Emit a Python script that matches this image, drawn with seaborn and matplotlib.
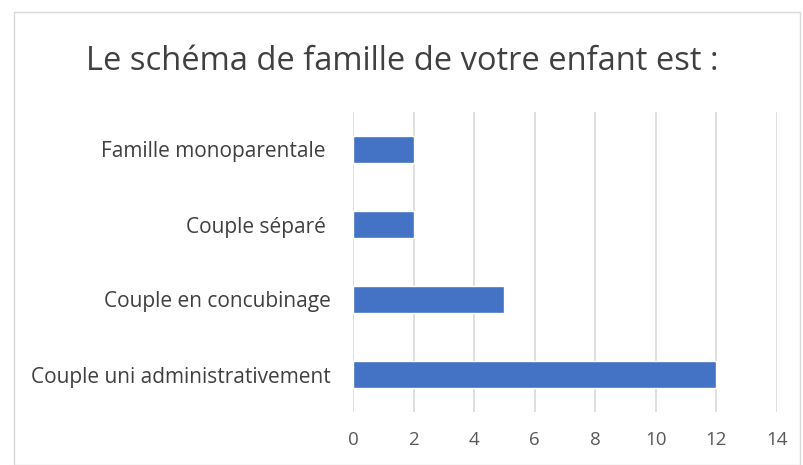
import matplotlib
matplotlib.use("Agg")
import matplotlib.pyplot as plt
import seaborn as sns
import pandas as pd
from matplotlib.patches import Rectangle

categories = ["Famille monoparentale ", "Couple séparé ", "Couple en concubinage", "Couple uni administrativement"]
values = [2, 2, 5, 12]
xticks = [0, 2, 4, 6, 8, 10, 12, 14]
title = "Le schéma de famille de votre enfant est :"

df = pd.DataFrame({"cat": categories, "val": values})

sns.set_theme(style="white")
plt.rcParams['font.family'] = ['Open Sans', 'DejaVu Sans']

fig = plt.figure(figsize=(8.04, 4.65), dpi=100)
ax = fig.add_axes([353/804, 1-412/465, (777-353)/804, 300/465])
sns.barplot(data=df, x="val", y="cat", order=categories, color="#4472C4",
            width=0.35, saturation=1, orient="h", ax=ax)

ax.set_xlim(0, 14)
ax.set_xticks(xticks)
ax.set_xticklabels([str(t) for t in xticks])
ax.xaxis.grid(True, color="#D9D9D9", linewidth=1.2)
ax.set_axisbelow(True)
for s in ax.spines.values():
    s.set_visible(False)
ax.set_xlabel("")
ax.set_ylabel("")
ax.tick_params(axis="x", colors="#595959", labelsize=13.5, length=0, pad=14)
ax.tick_params(axis="y", colors="#404040", labelsize=15, length=0, pad=16)
for lab in ax.get_xticklabels():
    lab.set_color("#595959")
for lab in ax.get_yticklabels():
    lab.set_color("#404040")

fig.text(0.5, 1-61/465, title, ha="center", va="center", fontsize=23.5, color="#404040")

fig.patches.append(Rectangle((14/804, 0), (800-14)/804, 1-12/465, transform=fig.transFigure,
                             fill=False, edgecolor="#D9D9D9", linewidth=1))

fig.savefig("out.png", dpi=100)
